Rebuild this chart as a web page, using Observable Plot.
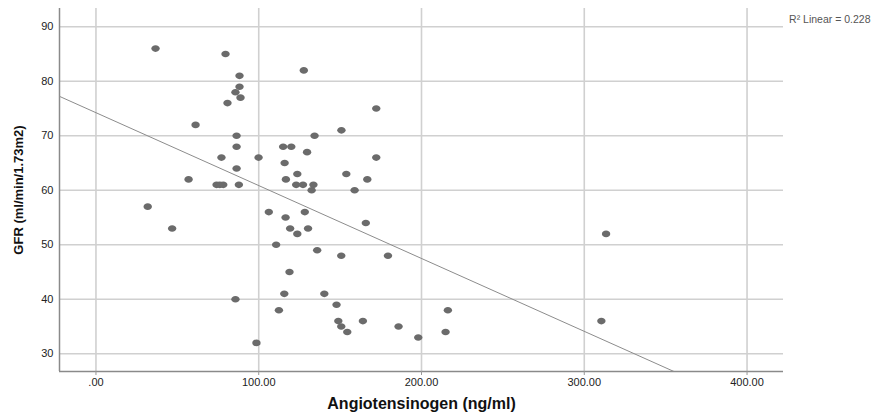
<!DOCTYPE html>
<html>
<head>
<meta charset="utf-8">
<script src="https://cdn.jsdelivr.net/npm/d3@7"></script>
<script src="https://cdn.jsdelivr.net/npm/@observablehq/plot@0.6"></script>
<style>
  html, body { margin: 0; padding: 0; background: #fff; }
  #chart svg { display: block; }
</style>
</head>
<body>
<div id="chart"></div>
<script>
// Angiotensinogen (ng/ml)
const angiotensinogen = [
  36.6, 79.6, 88.2, 88.2, 85.7, 88.8, 80.8, 61.2, 86.4, 86.4,
  77.1, 99.9, 86.4, 56.9, 74.1, 76.1, 78.2, 87.8, 31.8, 46.8,
  85.7, 98.6, 106.2, 116.5, 119.3, 123.7, 110.7, 118.9, 115.7, 112.4,
  115.0, 120.0, 115.9, 116.7, 123.7, 123.0, 127.2, 127.7, 172.2, 150.8,
  134.3, 129.7, 172.2, 153.8, 166.7, 133.6, 132.5, 158.9, 128.3, 130.3,
  165.8, 135.9, 150.7, 179.4, 140.3, 147.8, 216.2, 148.9, 164.0, 150.7,
  185.9, 154.4, 214.8, 198.0, 313.4, 310.5
];
// GFR (ml/min/1.73m2)
const gfr = [
  86, 85, 81, 79, 78, 77, 76, 72, 70, 68,
  66, 66, 64, 62, 61, 61, 61, 61, 57, 53,
  40, 32, 56, 55, 53, 52, 50, 45, 41, 38,
  68, 68, 65, 62, 63, 61, 61, 82, 75, 71,
  70, 67, 66, 63, 62, 61, 60, 60, 56, 53,
  54, 49, 48, 48, 41, 39, 38, 36, 36, 35,
  35, 34, 34, 33, 52, 36
];
const xTicks = [0, 100, 200, 300, 400];
const yTicks = [30, 40, 50, 60, 70, 80, 90];
const xDomain = [-22.4, 422.4];
const yDomain = [26.75, 93.36];
const xTitle = "Angiotensinogen (ng/ml)";
const yTitle = "GFR (ml/min/1.73m2)";
const fitLabel = "R\u00B2 Linear = 0.228";

const data = angiotensinogen.map((x, i) => ({x, y: gfr[i]}));

// least-squares fit computed from the points, drawn across the whole x range
const mx = d3.mean(data, d => d.x), my = d3.mean(data, d => d.y);
const slope = d3.sum(data, d => (d.x - mx) * (d.y - my)) / d3.sum(data, d => (d.x - mx) ** 2);
const intercept = my - slope * mx;
const fitLine = xDomain.map(x => ({x, y: intercept + slope * x}));

const ellipse = {
  draw(ctx) {
    const rx = 4.2, ry = 3.3, k = 0.5523;
    ctx.moveTo(rx, 0);
    ctx.bezierCurveTo(rx, ry * k, rx * k, ry, 0, ry);
    ctx.bezierCurveTo(-rx * k, ry, -rx, ry * k, -rx, 0);
    ctx.bezierCurveTo(-rx, -ry * k, -rx * k, -ry, 0, -ry);
    ctx.bezierCurveTo(rx * k, -ry, rx, -ry * k, rx, 0);
    ctx.closePath();
  }
};

const chart = Plot.plot({
  width: 872,
  height: 419,
  marginLeft: 59,
  marginRight: 89,
  marginTop: 8,
  marginBottom: 48,
  style: {fontFamily: "'Liberation Sans', Arial, sans-serif", fontSize: "11px", color: "#222", background: "#fff"},
  x: {domain: xDomain, ticks: xTicks},
  y: {domain: yDomain, ticks: yTicks},
  marks: [
    Plot.gridX(xTicks, {stroke: "#d0d0d0", strokeOpacity: 1, strokeWidth: 1.6}),
    Plot.gridY(yTicks, {stroke: "#d0d0d0", strokeOpacity: 1, strokeWidth: 1.6}),
    Plot.ruleX([xDomain[0]], {stroke: "#8a8a8a", strokeWidth: 1.5}),
    Plot.ruleY([yDomain[0]], {stroke: "#8a8a8a", strokeWidth: 1.5}),
    Plot.axisX(xTicks, {tickSize: 4, tickPadding: 3, stroke: "#999", fill: "#222", fontSize: 11,
      tickFormat: d => d === 0 ? ".00" : d.toFixed(2), label: null}),
    Plot.axisY(yTicks, {tickSize: 0, tickPadding: 6, fill: "#222", fontSize: 11, label: null}),
    Plot.line(fitLine, {x: "x", y: "y", stroke: "#8c8c8c", strokeWidth: 1, clip: true}),
    Plot.dot(data, {x: "x", y: "y", symbol: ellipse, fill: "#6b6b6b", stroke: "none"}),
    Plot.text([xTitle], {frameAnchor: "bottom", dy: 37, text: d => d, fontSize: 16, fontWeight: "bold", fill: "#111"}),
    Plot.text([yTitle], {frameAnchor: "left", dx: -41, rotate: -90, textAnchor: "middle", text: d => d, fontSize: 13, fontWeight: "bold", fill: "#111"}),
    Plot.text([fitLabel], {frameAnchor: "top-right", dx: 87, dy: 7, textAnchor: "end", text: d => d, fontSize: 10.5, fill: "#555"})
  ]
});
document.getElementById("chart").appendChild(chart);
</script>
</body>
</html>
